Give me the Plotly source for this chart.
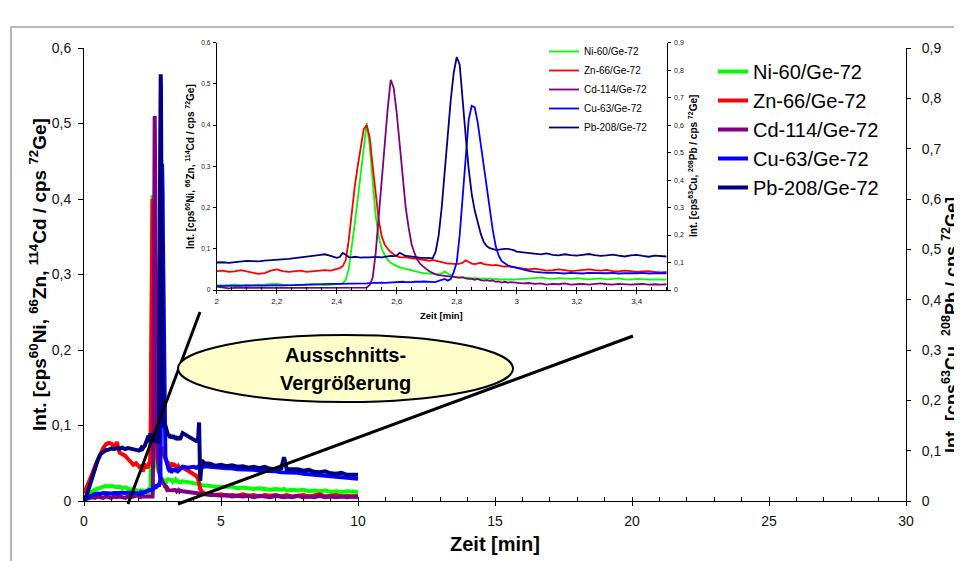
import plotly.graph_objects as go

# ---------------- data ----------------
SERIES = ["Ni-60/Ge-72", "Zn-66/Ge-72", "Cd-114/Ge-72", "Cu-63/Ge-72", "Pb-208/Ge-72"]
COLORS = ["#00FF00", "#FF0000", "#800080", "#0000FF", "#000080"]

T_EARLY = [0.0, 0.1, 0.2, 0.3, 0.4, 0.5, 0.6, 0.7, 0.8, 0.9,
           1.0, 1.1, 1.2, 1.3, 1.4, 1.5, 1.6, 1.7, 1.8, 1.9]
T_INSET = [2.00, 2.02, 2.04, 2.06, 2.08, 2.10, 2.12, 2.14, 2.16, 2.18, 2.20,
           2.22, 2.24, 2.26, 2.28, 2.30, 2.32, 2.34, 2.36, 2.38, 2.40,
           2.41, 2.42, 2.43, 2.44, 2.45, 2.46, 2.47, 2.48, 2.49,
           2.50, 2.51, 2.52, 2.53, 2.54, 2.55, 2.56, 2.57, 2.58, 2.59,
           2.60, 2.61, 2.62, 2.63, 2.64, 2.65, 2.66, 2.67, 2.68, 2.69,
           2.70, 2.71, 2.72, 2.73, 2.74, 2.75, 2.76, 2.77, 2.78, 2.79,
           2.80, 2.81, 2.82, 2.83, 2.84, 2.85, 2.86, 2.87, 2.88, 2.89,
           2.90, 2.91, 2.92, 2.93, 2.94, 2.95, 2.96, 2.97, 2.98, 2.99,
           3.00, 3.02, 3.04, 3.06, 3.08, 3.10, 3.12, 3.14, 3.16, 3.18, 3.20,
           3.22, 3.24, 3.26, 3.28, 3.30, 3.32, 3.34, 3.36, 3.38, 3.40,
           3.42, 3.44, 3.46, 3.48, 3.50]
T_TAIL = [3.6, 3.8, 4.0, 4.1, 4.16, 4.2, 4.24, 4.3, 4.4,
          4.6, 4.8, 5.0,
          5.2, 5.4, 5.6, 5.8, 6.0, 6.2, 6.4, 6.6, 6.8, 7.0, 7.2,
          7.3,
          7.4, 7.6, 7.8, 8.0, 8.2, 8.4, 8.6, 8.8, 9.0, 9.2, 9.4, 9.6, 9.8, 10.0]

# left axis series (cps 60Ni, 66Zn, 114Cd / cps 72Ge)
NI_EARLY = [0.002, 0.006, 0.010, 0.013, 0.015, 0.016, 0.018, 0.019, 0.020, 0.019,
            0.020, 0.019, 0.018, 0.019, 0.017, 0.018, 0.016, 0.015, 0.016, 0.014]
NI_INSET = [0.012, 0.011, 0.012, 0.013, 0.012, 0.011, 0.012, 0.012, 0.013, 0.014, 0.015,
            0.013, 0.012, 0.013, 0.012, 0.013, 0.014, 0.013, 0.012, 0.013, 0.013,
            0.014, 0.016, 0.025, 0.05, 0.10, 0.16, 0.22, 0.28, 0.34,
            0.405, 0.35, 0.27, 0.18, 0.13, 0.10, 0.085, 0.073, 0.066, 0.061,
            0.058, 0.055, 0.053, 0.051, 0.049, 0.047, 0.045, 0.043, 0.042, 0.041,
            0.040, 0.040, 0.039, 0.039, 0.038, 0.040, 0.045, 0.040, 0.035, 0.032,
            0.030, 0.030, 0.029, 0.029, 0.030, 0.028, 0.029, 0.028, 0.027, 0.028,
            0.027, 0.028, 0.026, 0.027, 0.026, 0.025, 0.026, 0.025, 0.026, 0.025,
            0.026, 0.027, 0.028, 0.029, 0.030, 0.028, 0.027, 0.029, 0.028, 0.027, 0.029,
            0.028, 0.026, 0.027, 0.028, 0.026, 0.027, 0.028, 0.026, 0.025, 0.027,
            0.026, 0.025, 0.026, 0.025, 0.025]
NI_TAIL = [0.026, 0.025, 0.024, 0.023, 0.023, 0.022, 0.022, 0.021, 0.021,
           0.020, 0.019, 0.019,
           0.018, 0.019, 0.017, 0.018, 0.017, 0.016, 0.017, 0.016, 0.015, 0.016, 0.015,
           0.016,
           0.014, 0.015, 0.014, 0.015, 0.013, 0.014, 0.013, 0.014, 0.012, 0.013, 0.012, 0.013, 0.012, 0.012]

ZN_EARLY = [0.010, 0.018, 0.027, 0.036, 0.046, 0.055, 0.064, 0.070, 0.075, 0.077,
            0.076, 0.071, 0.078, 0.064, 0.062, 0.060, 0.056, 0.052, 0.048, 0.050]
ZN_INSET = [0.046, 0.047, 0.044, 0.045, 0.048, 0.045, 0.042, 0.039, 0.041, 0.047, 0.050,
            0.046, 0.044, 0.045, 0.047, 0.044, 0.045, 0.046, 0.048, 0.047, 0.050,
            0.053, 0.058, 0.072, 0.12, 0.19, 0.25, 0.30, 0.35, 0.39,
            0.40, 0.37, 0.30, 0.23, 0.17, 0.13, 0.11, 0.10, 0.092, 0.087,
            0.082, 0.080, 0.079, 0.080, 0.078, 0.077, 0.076, 0.075, 0.074, 0.073,
            0.072, 0.071, 0.073, 0.071, 0.069, 0.068, 0.066, 0.064, 0.064, 0.063,
            0.063, 0.064, 0.066, 0.072, 0.068, 0.064, 0.063, 0.064, 0.066, 0.063,
            0.062, 0.061, 0.060, 0.061, 0.059, 0.058, 0.057, 0.058, 0.056, 0.056,
            0.054, 0.052, 0.050, 0.052, 0.049, 0.047, 0.048, 0.050, 0.048, 0.046, 0.047,
            0.049, 0.050, 0.048, 0.047, 0.049, 0.046, 0.045, 0.047, 0.046, 0.044,
            0.045, 0.046, 0.044, 0.043, 0.044]
ZN_TAIL = [0.044, 0.040, 0.036, 0.033, 0.030, 0.022, 0.016, 0.013, 0.010,
           0.009, 0.008, 0.009,
           0.007, 0.008, 0.007, 0.009, 0.007, 0.008, 0.006, 0.008, 0.007, 0.008, 0.006,
           0.007,
           0.008, 0.006, 0.007, 0.008, 0.006, 0.007, 0.009, 0.006, 0.007, 0.008, 0.006, 0.007, 0.006, 0.007]

CD_EARLY = [0.002, 0.003, 0.004, 0.005, 0.004, 0.006, 0.005, 0.004, 0.006, 0.005,
            0.004, 0.006, 0.005, 0.006, 0.005, 0.004, 0.006, 0.005, 0.006, 0.007]
CD_INSET = [0.008, 0.006, 0.004, 0.005, 0.006, 0.006, 0.005, 0.006, 0.006, 0.005, 0.006,
            0.006, 0.005, 0.005, 0.006, 0.006, 0.005, 0.005, 0.006, 0.005, 0.005,
            0.005, 0.005, 0.005, 0.005, 0.005, 0.005, 0.005, 0.005, 0.006,
            0.006, 0.012, 0.03, 0.09, 0.18, 0.28, 0.37, 0.44, 0.51, 0.49,
            0.43, 0.35, 0.27, 0.20, 0.15, 0.11, 0.088, 0.072, 0.062, 0.055,
            0.050, 0.045, 0.041, 0.038, 0.036, 0.035, 0.034, 0.033, 0.032, 0.032,
            0.031, 0.030, 0.031, 0.028, 0.027, 0.027, 0.025, 0.027, 0.024, 0.023,
            0.024, 0.022, 0.023, 0.020, 0.021, 0.018, 0.020, 0.018, 0.019, 0.018,
            0.018, 0.016, 0.017, 0.015, 0.016, 0.013, 0.015, 0.014, 0.016, 0.013, 0.014,
            0.015, 0.013, 0.014, 0.016, 0.014, 0.013, 0.015, 0.014, 0.013, 0.014,
            0.015, 0.013, 0.014, 0.013, 0.014]
CD_TAIL = [0.013, 0.012, 0.011, 0.011, 0.010, 0.010, 0.010, 0.009, 0.009,
           0.008, 0.008, 0.007,
           0.008, 0.006, 0.007, 0.006, 0.007, 0.005, 0.007, 0.006, 0.005, 0.007, 0.006,
           0.005,
           0.006, 0.005, 0.007, 0.005, 0.006, 0.005, 0.007, 0.005, 0.006, 0.005, 0.006, 0.005, 0.006, 0.005]

# right axis series (cps 63Cu, 208Pb / cps 72Ge)
CU_EARLY = [0.000, 0.006, 0.009, 0.012, 0.014, 0.015, 0.014, 0.016, 0.015, 0.016,
            0.015, 0.016, 0.015, 0.016, 0.017, 0.016, 0.017, 0.016, 0.017, 0.016]
CU_INSET = [0.014, 0.015, 0.014, 0.016, 0.015, 0.017, 0.016, 0.016, 0.017, 0.016, 0.017,
            0.018, 0.017, 0.018, 0.019, 0.020, 0.021, 0.022, 0.021, 0.022, 0.022,
            0.022, 0.023, 0.022, 0.023, 0.022, 0.024, 0.023, 0.024, 0.024,
            0.024, 0.025, 0.026, 0.025, 0.026, 0.027, 0.026, 0.027, 0.028, 0.027,
            0.028, 0.029, 0.030, 0.029, 0.028, 0.029, 0.030, 0.029, 0.030, 0.031,
            0.030, 0.031, 0.030, 0.029, 0.033, 0.037, 0.040, 0.034, 0.040, 0.065,
            0.10, 0.20, 0.35, 0.50, 0.62, 0.67, 0.665, 0.61, 0.53, 0.46,
            0.38, 0.30, 0.22, 0.16, 0.125, 0.105, 0.097, 0.090, 0.086, 0.083,
            0.080, 0.075, 0.070, 0.066, 0.064, 0.062, 0.063, 0.061, 0.060, 0.062, 0.061,
            0.060, 0.062, 0.061, 0.060, 0.061, 0.062, 0.060, 0.061, 0.060, 0.061,
            0.062, 0.060, 0.061, 0.060, 0.061]
CU_TAIL = [0.068, 0.066, 0.068, 0.066, 0.068, 0.066, 0.060, 0.066, 0.069,
           0.068, 0.066, 0.066,
           0.065, 0.065, 0.063, 0.063, 0.062, 0.062, 0.060, 0.060, 0.059, 0.059, 0.057,
           0.057,
           0.057, 0.056, 0.056, 0.054, 0.053, 0.053, 0.051, 0.050, 0.050, 0.048, 0.047, 0.047, 0.045, 0.044]

PB_EARLY = [0.002, 0.012, 0.029, 0.048, 0.068, 0.081, 0.093, 0.097, 0.101, 0.102,
            0.104, 0.103, 0.105, 0.104, 0.106, 0.103, 0.105, 0.104, 0.102, 0.101]
PB_INSET = [0.100, 0.101, 0.099, 0.102, 0.104, 0.106, 0.105, 0.104, 0.107, 0.108, 0.109,
            0.110, 0.113, 0.116, 0.118, 0.121, 0.124, 0.127, 0.130, 0.124, 0.117,
            0.120, 0.135, 0.128, 0.120, 0.119, 0.121, 0.120, 0.118, 0.119,
            0.118, 0.119, 0.120, 0.121, 0.120, 0.119, 0.121, 0.122, 0.124, 0.123,
            0.125, 0.135, 0.130, 0.124, 0.123, 0.121, 0.119, 0.118, 0.117, 0.117,
            0.116, 0.116, 0.116, 0.14, 0.20, 0.30, 0.43, 0.57, 0.69, 0.79,
            0.848, 0.82, 0.68, 0.56, 0.44, 0.35, 0.29, 0.245, 0.205, 0.175,
            0.16, 0.152, 0.148, 0.146, 0.147, 0.149, 0.150, 0.150, 0.148, 0.145,
            0.140, 0.138, 0.135, 0.132, 0.130, 0.133, 0.128, 0.126, 0.130, 0.127, 0.125,
            0.128, 0.131, 0.127, 0.124, 0.126, 0.129, 0.125, 0.122, 0.126, 0.128,
            0.124, 0.121, 0.125, 0.123, 0.122]
PB_TAIL = [0.135, 0.129, 0.123, 0.119, 0.120, 0.156, 0.040, 0.081, 0.075,
           0.074, 0.070, 0.072,
           0.069, 0.071, 0.068, 0.069, 0.066, 0.068, 0.065, 0.068, 0.064, 0.063, 0.065,
           0.087,
           0.063, 0.062, 0.063, 0.060, 0.062, 0.058, 0.057, 0.059, 0.055, 0.054, 0.056, 0.052, 0.051, 0.052]

# ---------------- figure ----------------
FONT = "Liberation Sans, Arial, sans-serif"
W, H = 962, 561
OFF = 8                      # page body margin: screen px = figure px + 8
L, R, T, B = 76, 898, 32, 493  # plot area in figure pixels


def pxx(x):
    """screen x pixel -> paper x"""
    return (x - OFF - L) / (R - L)


def pxy(y):
    """screen y pixel -> paper y"""
    return (B - (y - OFF)) / (B - T)


inset_sets = [NI_INSET, ZN_INSET, CD_INSET, CU_INSET, PB_INSET]
main_sets = [NI_EARLY + NI_INSET + NI_TAIL, ZN_EARLY + ZN_INSET + ZN_TAIL,
             CD_EARLY + CD_INSET + CD_TAIL, CU_EARLY + CU_INSET + CU_TAIL,
             PB_EARLY + PB_INSET + PB_TAIL]
T_MAIN = T_EARLY + T_INSET + T_TAIL

fig = go.Figure()
for i, name in enumerate(SERIES):
    right = i >= 3
    fig.add_trace(go.Scatter(
        x=T_MAIN, y=main_sets[i], mode="lines", name=name,
        line=dict(color=COLORS[i], width=4),
        xaxis="x", yaxis="y2" if right else "y", legend="legend"))
for i, name in enumerate(SERIES):
    right = i >= 3
    fig.add_trace(go.Scatter(
        x=T_INSET, y=inset_sets[i], mode="lines", name=name,
        line=dict(color=COLORS[i], width=1.8),
        xaxis="x2", yaxis="y4" if right else "y3", legend="legend2"))

ax_common = dict(showline=True, linecolor="black", linewidth=1, showgrid=False,
                 zeroline=False, tickcolor="black")

inset_x0, inset_x1 = pxx(216.7), pxx(666.7)
inset_y0, inset_y1 = pxy(290), pxy(42.7)

fig.update_layout(
    width=W, height=H, autosize=False,
    margin=dict(l=L, r=W - R, t=T, b=H - B),
    paper_bgcolor="white", plot_bgcolor="rgba(0,0,0,0)",
    separators=", ",
    font=dict(family=FONT, color="black"),
    xaxis=dict(domain=[0, 1], range=[0, 30], anchor="y", tick0=0, dtick=5,
               ticks="outside", ticklen=4, tickfont=dict(size=14, color="#111"),
               ticklabelstandoff=3,
               minor=dict(dtick=1, ticks="inside", ticklen=4, tickcolor="black"),
               **ax_common),
    yaxis=dict(domain=[0, pxy(48)], range=[0, 0.6], anchor="x", tick0=0, dtick=0.1,
               ticks="outside", ticklen=5, tickfont=dict(size=14, color="#111"),
               ticklabelstandoff=4, **ax_common),
    yaxis2=dict(overlaying="y", side="right", range=[0, 0.9], anchor="x", tick0=0,
                dtick=0.1, ticks="outside", ticklen=4,
                tickfont=dict(size=14, color="#111"), ticklabelstandoff=8, **ax_common),
    xaxis2=dict(domain=[inset_x0, inset_x1], range=[2, 3.5], anchor="y3", tick0=2,
                dtick=0.2, ticks="outside", ticklen=3, tickfont=dict(size=8, color="#111"),
                minor=dict(dtick=0.05, ticks="inside", ticklen=3, tickcolor="black"),
                **ax_common),
    yaxis3=dict(domain=[inset_y0, inset_y1], range=[0, 0.6], anchor="x2", tick0=0,
                dtick=0.1, ticks="outside", ticklen=3, tickfont=dict(size=6.5, color="#111"),
                ticklabelstandoff=1, **ax_common),
    yaxis4=dict(overlaying="y3", side="right", range=[0, 0.9], anchor="x2", tick0=0,
                dtick=0.1, ticks="outside", ticklen=3, tickfont=dict(size=7, color="#111"),
                ticklabelstandoff=2, **ax_common),
    legend=dict(x=pxx(713), y=pxy(52), xanchor="left", yanchor="top",
                bgcolor="rgba(0,0,0,0)", font=dict(size=20, family=FONT, color="black"),
                tracegroupgap=0),
    legend2=dict(x=pxx(544), y=pxy(37), xanchor="left", yanchor="top",
                 bgcolor="rgba(0,0,0,0)", font=dict(size=10, family=FONT, color="black"),
                 tracegroupgap=0),
    showlegend=True,
)

shapes = [
    # outer chart-area frame
    dict(type="rect", xref="paper", yref="paper", x0=pxx(11), x1=pxx(1000),
         y0=pxy(620), y1=pxy(27), line=dict(color="#A0A0A0", width=1.5),
         fillcolor="rgba(0,0,0,0)", layer="below"),
    # zoom callout lines
    dict(type="line", xref="paper", yref="paper", x0=pxx(200), y0=pxy(312),
         x1=pxx(128), y1=pxy(504), line=dict(color="black", width=3)),
    dict(type="line", xref="paper", yref="paper", x0=pxx(178), y0=pxy(504),
         x1=pxx(633), y1=pxy(336), line=dict(color="black", width=3)),
    # callout ellipse
    dict(type="circle", xref="paper", yref="paper", x0=pxx(178), x1=pxx(513),
         y0=pxy(402), y1=pxy(335), fillcolor="#FFFFCC",
         line=dict(color="black", width=2)),
]
fig.update_layout(shapes=shapes)


def ann(text, x, y, size, angle=0, bold=True):
    return dict(text=("<b>%s</b>" % text) if bold else text, xref="paper", yref="paper",
                x=pxx(x), y=pxy(y), xanchor="center", yanchor="middle",
                showarrow=False, textangle=angle,
                font=dict(size=size, family=FONT, color="black"))


left_title = "Int. [cps<sup>60</sup>Ni, <sup>66</sup>Zn, <sup>114</sup>Cd / cps <sup>72</sup>Ge]"
right_title = "Int. [cps<sup>63</sup>Cu, <sup>208</sup>Pb / cps <sup>72</sup>Ge]"

fig.update_layout(annotations=[
    ann(left_title, 38, 275, 19, -90),
    ann(right_title, 950, 325, 18, -90),
    ann("Zeit [min]", 495, 544, 20),
    ann(left_title, 190, 167, 10, -90),
    ann(right_title, 693, 166, 10, -90),
    ann("Zeit [min]", 441, 315, 9.5),
    ann("Ausschnitts-", 345, 355, 20),
    ann("Vergrößerung", 345, 383, 20),
])

fig.write_html("out.html")
